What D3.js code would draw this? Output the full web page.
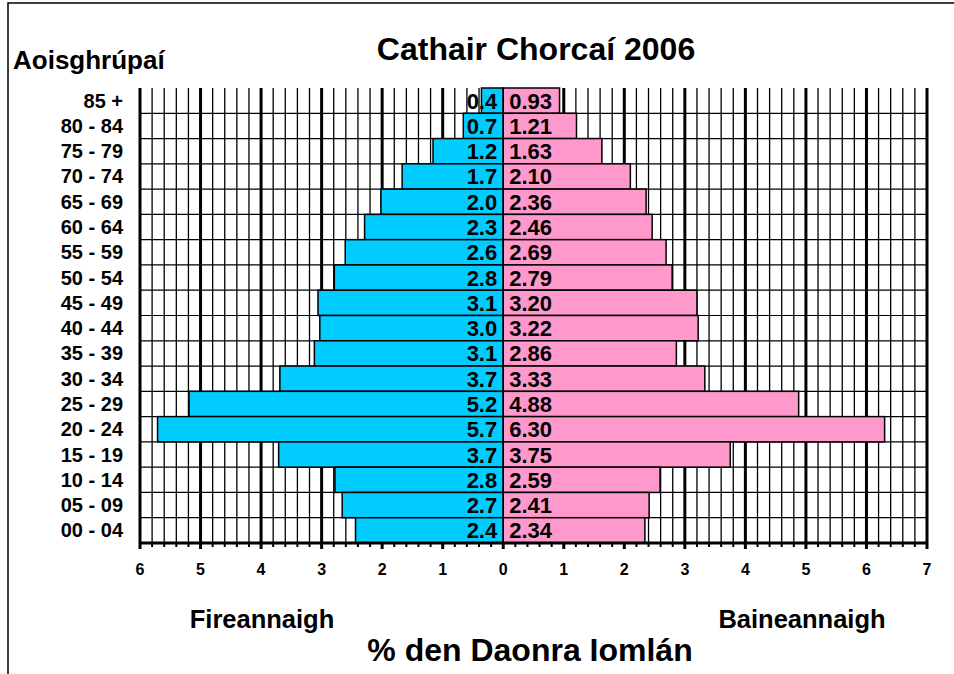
<!DOCTYPE html>
<html>
<head>
<meta charset="utf-8">
<script src="https://cdn.jsdelivr.net/npm/d3@7"></script>
<style>
  body { margin: 0; background: #fff; }
  svg { display: block; font-family: "Liberation Sans", Arial, sans-serif; font-weight: bold; }
</style>
</head>
<body>
<div id="chart"></div>
<script>
// age groups, top to bottom
const ageGroups = ["85 +", "80 - 84", "75 - 79", "70 - 74", "65 - 69", "60 - 64", "55 - 59", "50 - 54",
  "45 - 49", "40 - 44", "35 - 39", "30 - 34", "25 - 29", "20 - 24", "15 - 19", "10 - 14", "05 - 09", "00 - 04"];
// % of total population
const maleValues = [0.36, 0.66, 1.16, 1.67, 2.02, 2.29, 2.61, 2.79, 3.06, 3.03, 3.12, 3.69, 5.19, 5.71, 3.71, 2.78, 2.66, 2.44];
const femaleValues = [0.93, 1.21, 1.63, 2.10, 2.36, 2.46, 2.69, 2.79, 3.20, 3.22, 2.86, 3.33, 4.88, 6.30, 3.75, 2.59, 2.41, 2.34];
const xTicks = [-6, -5, -4, -3, -2, -1, 0, 1, 2, 3, 4, 5, 6, 7];

const titleText = "Cathair Chorcaí 2006";
const yTitle = "Aoisghrúpaí";
const maleLabel = "Fireannaigh";
const femaleLabel = "Baineannaigh";
const xTitle = "% den Daonra Iomlán";

const W = 954, H = 674;
const svg = d3.select("#chart").append("svg").attr("width", W).attr("height", H);

// outer frame (runs off the right and bottom edges)
svg.append("rect").attr("x", 8).attr("y", 3).attr("width", 1000).attr("height", 700)
  .attr("fill", "none").attr("stroke", "#000").attr("stroke-width", 1.5);

const x = d3.scaleLinear().domain([-6, 7]).range([140, 927]);
const y = d3.scaleBand().domain(ageGroups).range([88, 543]).padding(0);

const data = ageGroups.map((g, i) => ({group: g, male: maleValues[i], female: femaleValues[i]}));

// grid
const grid = svg.append("g");
const minor = d3.range(-30, 36).map(d => d / 5);
const isMajor = d => Math.abs(d - Math.round(d)) < 1e-6;
grid.selectAll("line.v").data(minor).join("line")
  .attr("x1", d => x(d)).attr("x2", d => x(d))
  .attr("y1", y.range()[0]).attr("y2", y.range()[1])
  .attr("stroke", "#000")
  .attr("stroke-width", d => isMajor(d) ? 3 : 1.3);
grid.selectAll("line.h").data(ageGroups.slice(1)).join("line")
  .attr("x1", x(-6)).attr("x2", x(7))
  .attr("y1", d => y(d)).attr("y2", d => y(d))
  .attr("stroke", "#000").attr("stroke-width", 1.2);

// bars
svg.append("g").selectAll("rect").data(data).join("rect")
  .attr("x", d => x(-d.male)).attr("width", d => x(0) - x(-d.male))
  .attr("y", d => y(d.group)).attr("height", y.bandwidth())
  .attr("fill", "#00CCFF").attr("stroke", "#000").attr("stroke-width", 1.5);
svg.append("g").selectAll("rect").data(data).join("rect")
  .attr("x", x(0)).attr("width", d => x(d.female) - x(0))
  .attr("y", d => y(d.group)).attr("height", y.bandwidth())
  .attr("fill", "#FF99CC").attr("stroke", "#000").attr("stroke-width", 1.5);

// value labels
const f1 = d3.format(".1f"), f2 = d3.format(".2f");
svg.append("g").selectAll("text").data(data).join("text")
  .attr("x", x(0) - 6).attr("y", d => y(d.group) + y.bandwidth() / 2 + 8)
  .attr("text-anchor", "end").attr("font-size", 22)
  .text(d => f1(d.male));
svg.append("g").selectAll("text").data(data).join("text")
  .attr("x", x(0) + 6).attr("y", d => y(d.group) + y.bandwidth() / 2 + 8)
  .attr("text-anchor", "start").attr("font-size", 22)
  .text(d => f2(d.female));

// x axis
const axis = svg.append("g").attr("transform", `translate(0,${y.range()[1]})`);
axis.append("line").attr("x1", x(-6) - 1).attr("x2", x(7) + 1)
  .attr("stroke", "#000").attr("stroke-width", 3);
axis.selectAll("line.t").data(minor).join("line")
  .attr("x1", d => x(d)).attr("x2", d => x(d))
  .attr("y1", 0).attr("y2", d => isMajor(d) ? 6 : 4)
  .attr("stroke", "#000")
  .attr("stroke-width", d => isMajor(d) ? 3 : 2);
axis.selectAll("text").data(xTicks).join("text")
  .attr("x", d => x(d)).attr("y", 32)
  .attr("text-anchor", "middle").attr("font-size", 16)
  .text(d => Math.abs(d));

// y labels
svg.append("g").selectAll("text").data(ageGroups).join("text")
  .attr("x", 123).attr("y", d => y(d) + y.bandwidth() / 2 + 7)
  .attr("text-anchor", "end").attr("font-size", 20)
  .text(d => d);

// titles
svg.append("text").attr("x", 536).attr("y", 60).attr("text-anchor", "middle")
  .attr("font-size", 32).text(titleText);
svg.append("text").attr("x", 13).attr("y", 69).attr("font-size", 26).text(yTitle);
svg.append("text").attr("x", 262).attr("y", 628).attr("text-anchor", "middle")
  .attr("font-size", 25.5).text(maleLabel);
svg.append("text").attr("x", 802).attr("y", 628).attr("text-anchor", "middle")
  .attr("font-size", 25.5).text(femaleLabel);
svg.append("text").attr("x", 530).attr("y", 661).attr("text-anchor", "middle")
  .attr("font-size", 32).text(xTitle);
</script>
</body>
</html>
